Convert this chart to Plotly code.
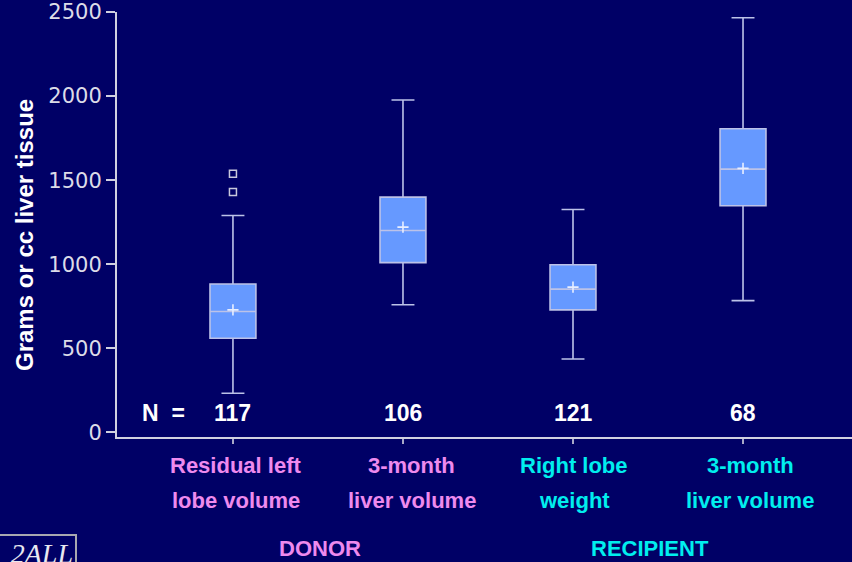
import plotly.graph_objects as go

# ---------------- data ----------------
categories = ["Residual left lobe volume", "3-month liver volume (donor)",
              "Right lobe weight", "3-month liver volume (recipient)"]
label_line1 = ["Residual left", "3-month", "Right lobe", "3-month"]
label_line2 = ["lobe volume", "liver volume", "weight", "liver volume"]
label_colors = ["#EE8AEE", "#EE8AEE", "#00EEEE", "#00EEEE"]
label_xshift = [3, 9, 1, 7]
groups = ["DONOR", "RECIPIENT"]
group_colors = ["#EE8AEE", "#00EEEE"]
group_pos = [0.51, 2.45]

lowerfence = [233, 759, 437, 784]
q1 = [560, 1010, 729, 1348]
median = [719, 1201, 852, 1566]
q3 = [883, 1399, 997, 1806]
upperfence = [1290, 1977, 1326, 2466]
means = [729, 1221, 864, 1570]
outlier_x = [0, 0]
outlier_y = [1429, 1538]
n_values = ["117", "106", "121", "68"]

y_ticks = [0, 500, 1000, 1500, 2000, 2500]

# ---------------- layout geometry ----------------
W, H = 852, 562
ML, MR, MT, MB = 117, 0, 12, 125
PLOT_TOP, PLOT_BOT = MT, H - MB
PH = PLOT_BOT - PLOT_TOP


def py(Y):
    return (PLOT_BOT - Y) / PH


def px(X):
    return (X - ML) / (W - ML - MR)


BG = "#000066"
BOX_FILL = "#6699FF"
BOX_LINE = "#BCC2E8"

fig = go.Figure()

for i in range(len(categories)):
    fig.add_trace(go.Box(
        x=[i], q1=[q1[i]], median=[median[i]], q3=[q3[i]],
        lowerfence=[lowerfence[i]], upperfence=[upperfence[i]],
        width=0.27, whiskerwidth=0.5,
        fillcolor=BOX_FILL,
        line=dict(color=BOX_LINE, width=1.6),
        boxpoints=False, showlegend=False, hoverinfo="skip",
    ))

fig.add_trace(go.Scatter(
    x=list(range(len(categories))), y=means, mode="markers",
    marker=dict(symbol="cross-thin", size=8,
                line=dict(color="#E8EEFF", width=1.6)),
    showlegend=False, hoverinfo="skip",
))

fig.add_trace(go.Scatter(
    x=outlier_x, y=outlier_y, mode="markers",
    marker=dict(symbol="square-open", size=7, color="#C8C8DC",
                line=dict(width=1.5)),
    showlegend=False, hoverinfo="skip",
))

annotations = []
NFONT = dict(family="Liberation Sans Narrow, Arial Narrow, Arial", size=23,
             color="white")
annotations.append(dict(x=px(163), y=py(412.5), xref="paper", yref="paper",
                        text="<b>N  =</b>", showarrow=False, font=NFONT,
                        xanchor="center", yanchor="middle"))
for i, n in enumerate(n_values):
    annotations.append(dict(x=i, y=py(412.5), xref="x", yref="paper",
                            text="<b>%s</b>" % n, showarrow=False, font=NFONT,
                            xanchor="center", yanchor="middle"))

LFONT = dict(family="Arial, Liberation Sans", size=22)
for i in range(len(categories)):
    for txt, Y in ((label_line1[i], 465), (label_line2[i], 500)):
        annotations.append(dict(
            x=i, y=py(Y), xref="x", yref="paper", xshift=label_xshift[i],
            text="<b>%s</b>" % txt, showarrow=False,
            font=dict(LFONT, color=label_colors[i]),
            xanchor="center", yanchor="middle"))

for g, c, p in zip(groups, group_colors, group_pos):
    annotations.append(dict(
        x=p, y=py(548), xref="x", yref="paper", text="<b>%s</b>" % g,
        showarrow=False, font=dict(family="Arial, Liberation Sans", size=22,
                                   color=c),
        xanchor="center", yanchor="middle"))

annotations.append(dict(
    x=px(25), y=py(235), xref="paper", yref="paper",
    text="<b>Grams or cc liver tissue</b>", textangle=-90, showarrow=False,
    font=dict(family="Arial, Liberation Sans", size=24, color="white"),
    xanchor="center", yanchor="middle"))

annotations.append(dict(
    x=px(77), y=py(534), xref="paper", yref="paper",
    text="<i>2ALL</i>", showarrow=False, width=84, align="right",
    font=dict(family="Liberation Serif, Times New Roman, serif", size=28,
              color="#E8E8F0"),
    xanchor="right", yanchor="top", bgcolor=BG,
    bordercolor="#A8A8B0", borderwidth=2, borderpad=2))

fig.update_layout(
    width=W, height=H,
    margin=dict(l=ML, r=MR, t=MT, b=MB, pad=0),
    paper_bgcolor=BG, plot_bgcolor=BG,
    showlegend=False,
    annotations=annotations,
    xaxis=dict(range=[-0.682, 3.641], tickvals=list(range(len(categories))),
               showticklabels=False, ticks="outside", ticklen=5,
               tickcolor="#A8A8C8", tickwidth=1.5,
               showline=True, linecolor="#D0D0E0", linewidth=2,
               showgrid=False, zeroline=False, fixedrange=True),
    yaxis=dict(range=[-27, 2500], tickvals=y_ticks,
               ticktext=[str(v) for v in y_ticks],
               ticks="outside", ticklen=9, tickcolor="#D0D0E0", tickwidth=1.5,
               tickfont=dict(family="DejaVu Sans, Verdana", size=21,
                             color="#DCDCE8"),
               showline=True, linecolor="#D0D0E0", linewidth=2,
               showgrid=False, zeroline=False, fixedrange=True),
)

fig.write_html(
    "out.html",
    config={"displayModeBar": False},
    post_script="document.body.style.margin='0';"
                "document.body.style.overflow='hidden';"
                "document.body.style.background='%s';" % BG,
)
